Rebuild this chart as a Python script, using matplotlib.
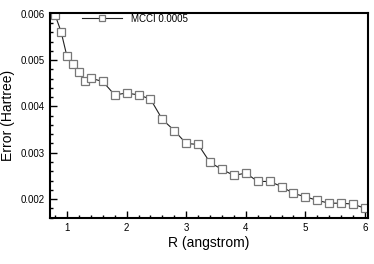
import numpy as np
import matplotlib.pyplot as plt
from matplotlib.ticker import MultipleLocator

plt.rcParams['font.family'] = ['Liberation Sans', 'DejaVu Sans']

r_vals = [0.8, 0.9, 1.0, 1.1, 1.2, 1.3, 1.4, 1.6, 1.8, 2.0, 2.2, 2.4, 2.6, 2.8,
          3.0, 3.2, 3.4, 3.6, 3.8, 4.0, 4.2, 4.4, 4.6, 4.8, 5.0, 5.2, 5.4, 5.6,
          5.8, 6.0]
err_vals = [0.00598, 0.00562, 0.00508, 0.00492, 0.00474, 0.00455, 0.00461,
            0.00454, 0.00425, 0.00429, 0.00425, 0.00416, 0.00372, 0.00348,
            0.00320, 0.00318, 0.00279, 0.00264, 0.00251, 0.00256, 0.00238,
            0.00238, 0.00227, 0.00212, 0.00205, 0.00197, 0.00191, 0.00191,
            0.00189, 0.00180]
series_label = 'MCCI 0.0005'

fig = plt.figure(figsize=(3.74, 2.64), dpi=100)
ax = fig.add_axes([50/374, 1 - 218/264, 318/374, 205/264])

ax.plot(r_vals, err_vals, color='#222222', lw=0.8, marker='s', ms=6,
        mfc='white', mec='#777777', mew=0.9, label=series_label)

ax.set_xlim(0.715, 6.05)
ax.set_ylim(0.00159, 0.00602)
ax.xaxis.set_major_locator(MultipleLocator(1))
ax.xaxis.set_minor_locator(MultipleLocator(0.2))
ax.yaxis.set_major_locator(MultipleLocator(0.001))
ax.yaxis.set_minor_locator(MultipleLocator(0.0002))
ax.tick_params(which='both', direction='in', labelsize=7, width=1)
ax.tick_params(which='major', length=5)
ax.tick_params(which='minor', length=2.5)
for s in ax.spines.values():
    s.set_linewidth(1.5)

ax.set_xlabel('R (angstrom)', fontsize=10, labelpad=2)
ax.set_ylabel('Error (Hartree)', fontsize=10, labelpad=4)

ax.legend(loc='upper left', bbox_to_anchor=((82 - 50) / 318, 0.997),
          frameon=False, fontsize=7, handlelength=4.1, handletextpad=0.9,
          borderpad=0, borderaxespad=0, markerscale=0.75)

fig.savefig('out.png', dpi=100)
